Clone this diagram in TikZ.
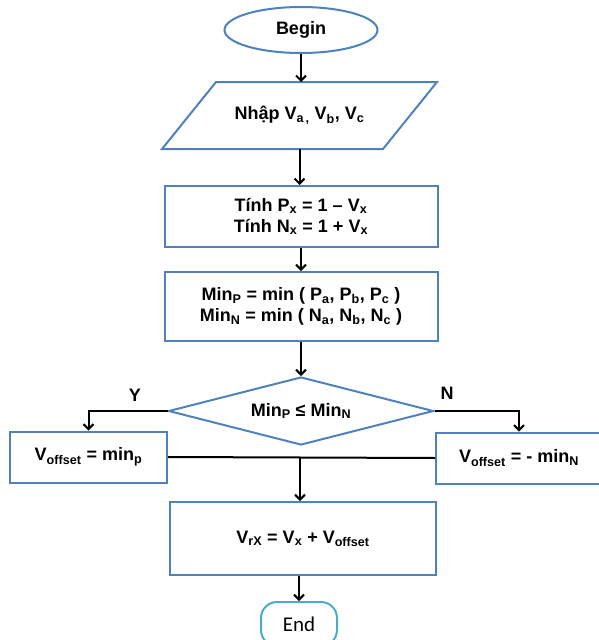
\documentclass[tikz,border=0pt]{standalone}
\usepackage{fontspec}
\setmainfont{Liberation Sans}
\newfontfamily\endfont{Carlito}
\usetikzlibrary{shapes,arrows.meta,positioning}
\definecolor{boxblue}{HTML}{4F81BD}
\definecolor{endteal}{HTML}{4BACC6}

\begin{document}
\begin{tikzpicture}[x=1pt, y=-1pt,
    shapebox/.style={draw=boxblue, line width=2pt, inner sep=0pt, align=center, font=\fontsize{18}{21}\selectfont\bfseries},
    startnode/.style={shapebox, ellipse, minimum width=153pt, minimum height=46pt},
    io/.style={shapebox, draw=none, rectangle, minimum width=219pt, minimum height=65pt},
    process/.style={shapebox, rectangle, minimum width=273pt, minimum height=61pt},
    decision/.style={shapebox, diamond, aspect=3.9, minimum width=265pt, minimum height=68pt},
    result/.style={shapebox, rectangle, minimum height=51pt},
    endnode/.style={draw=endteal, line width=2pt, rectangle, rounded corners=16pt, minimum width=76pt, minimum height=44pt, font=\endfont\fontsize{21}{25}\selectfont},
    branch/.style={font=\fontsize{18}{21}\selectfont\bfseries},
    arrow/.style={-{Straight Barb[length=5pt,width=10pt]}, line width=2pt}
]
    \useasboundingbox (0, 0) rectangle (598, 640);

    % Bat dau
    \node[startnode] (begin) at (301, 30) {Begin};

    % Nhap du lieu
    \node[io] (input) at (299.5, 115.5) {Nhập V\textsubscript{a\,,} V\textsubscript{b}, V\textsubscript{c}};
    \draw[draw=boxblue, line width=2pt] ([xshift=27pt]input.north west) -- ([xshift=27pt]input.north east)
        -- ([xshift=-27pt]input.south east) -- ([xshift=-27pt]input.south west) -- cycle;

    % Tinh P, N
    \node[process] (calc) at (301, 216.5) {Tính P\textsubscript{x} = 1 – V\textsubscript{x}\\Tính N\textsubscript{x} = 1 + V\textsubscript{x}};

    % Tim min
    \node[process, minimum height=69pt] (minpn) at (301, 306.5) {Min\textsubscript{P} = min ( P\textsubscript{a}, P\textsubscript{b}, P\textsubscript{c} )\\Min\textsubscript{N} = min ( N\textsubscript{a}, N\textsubscript{b}, N\textsubscript{c} )};

    % So sanh
    \node[decision] (cmp) at (301, 411) {Min\textsubscript{P} ≤ Min\textsubscript{N}};
    \node[branch] (yes) at (135, 395) {Y};
    \node[branch] (no) at (447, 393) {N};

    % Voffset
    \node[result, minimum width=157pt] (voffp) at (88.5, 457) {V\textsubscript{offset} = min\textsubscript{p}};
    \node[result, minimum width=166pt] (voffn) at (519, 458) {V\textsubscript{offset} = - min\textsubscript{N}};

    % VrX
    \node[process, minimum width=266pt, minimum height=73pt] (vrx) at (303, 538.5) {V\textsubscript{rX} = V\textsubscript{x} + V\textsubscript{offset}};

    % Ket thuc
    \node[endnode] (stop) at (299, 624) {End};

    % Mui ten
    \draw[arrow] (begin.south) -- (begin.south |- input.north);
    \draw[arrow] (input.south) -- (input.south |- calc.north);
    \draw[arrow] (calc.south) -- (minpn.north);
    \draw[arrow] (minpn.south) -- (cmp.north);
    \draw[arrow] (cmp.west) -| (voffp.north);
    \draw[arrow] (cmp.east) -| (voffn.north);
    \draw[line width=2pt] (voffp.east) -- (voffn.west);
    \coordinate (join) at (300, 458);
    \draw[arrow] (join) -- (join |- vrx.north);
    \draw[arrow] (stop.north |- vrx.south) -- (stop.north);
\end{tikzpicture}
\end{document}
